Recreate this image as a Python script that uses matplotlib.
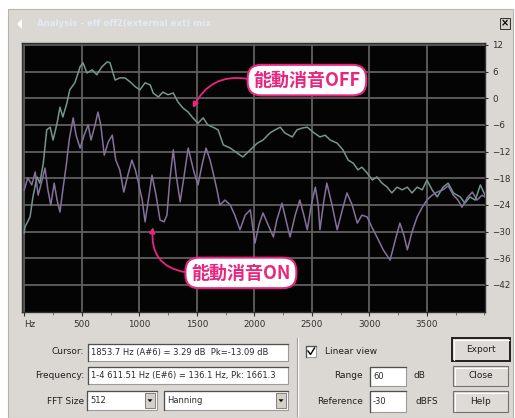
import numpy as np
import matplotlib.pyplot as plt
from matplotlib.patches import Rectangle, Polygon
from matplotlib.colors import LinearSegmentedColormap

# Spectrum traces (Hz, dB) -- noise cancelling off / on
off_hz = [0, 5, 50, 75, 110, 135, 165, 195, 225, 250, 285, 310, 335, 370, 395, 440,
          485, 510, 545, 590, 630, 675, 720, 745, 790, 830, 875, 920, 965, 1005, 1050,
          1095, 1120, 1165, 1205, 1250, 1295, 1335, 1380, 1425, 1465, 1510, 1555, 1595,
          1640, 1685, 1730, 1790, 1850, 1900, 1965, 2025, 2075, 2135, 2180, 2225, 2265,
          2330, 2370, 2415, 2460, 2510, 2570, 2615, 2660, 2720, 2770, 2815, 2860, 2900,
          2935, 2980, 3025, 3065, 3110, 3155, 3195, 3240, 3285, 3330, 3370, 3415, 3460,
          3500, 3545, 3590, 3640, 3685, 3730, 3790, 3830, 3875, 3920, 3965, 4005]
off_db = [-30.3, -29.0, -26.7, -22.2, -17.7, -19.1, -14.6, -7.1, -6.5, -9.4, -5.6, -2.0,
          -4.2, -1.1, 1.9, 3.5, 7.1, 8.0, 5.7, 6.4, 5.3, 7.1, 8.2, 8.0, 4.1, 4.6, 4.6, 3.7,
          2.6, 1.9, 3.5, 3.0, 1.2, 0.3, 1.4, 0.8, 1.2, -0.8, -2.2, -3.1, -4.4, -5.6, -4.4,
          -6.0, -6.5, -7.1, -10.5, -11.2, -12.3, -13.2, -11.6, -10.1, -9.4, -7.8, -7.1,
          -6.5, -7.8, -8.7, -7.1, -6.7, -6.5, -7.6, -8.7, -8.3, -9.4, -10.1, -11.6, -13.9,
          -14.6, -16.1, -15.5, -16.8, -18.4, -17.7, -19.1, -20.0, -21.3, -20.0, -20.6,
          -20.0, -21.3, -20.0, -20.6, -18.4, -20.6, -22.2, -20.0, -19.1, -21.3, -22.2,
          -23.6, -22.2, -22.9, -19.5, -21.8]

on_hz = [0, 30, 65, 95, 120, 155, 180, 205, 230, 260, 285, 310, 335, 365, 390, 425, 450,
         485, 520, 555, 580, 615, 640, 665, 695, 730, 765, 795, 830, 865, 900, 935, 965,
         990, 1025, 1050, 1085, 1110, 1145, 1180, 1215, 1240, 1265, 1295, 1320, 1355,
         1390, 1425, 1450, 1475, 1510, 1545, 1580, 1615, 1640, 1675, 1700, 1745, 1790,
         1830, 1875, 1920, 1965, 2005, 2040, 2075, 2120, 2165, 2195, 2240, 2275, 2310,
         2355, 2395, 2430, 2460, 2495, 2530, 2555, 2570, 2605, 2630, 2675, 2720, 2765,
         2805, 2850, 2895, 2935, 2980, 3025, 3065, 3120, 3180, 3225, 3265, 3300, 3330,
         3370, 3415, 3460, 3500, 3545, 3590, 3640, 3685, 3730, 3770, 3805, 3850, 3895,
         3935, 3980, 4015]
on_db = [-20.6, -17.9, -19.5, -16.6, -21.8, -18.4, -15.7, -20.6, -24.0, -19.1, -22.9,
         -25.6, -20.6, -15.0, -9.4, -4.4, -8.3, -11.2, -8.3, -6.0, -9.4, -6.0, -3.1, -6.0,
         -12.8, -9.8, -8.3, -13.9, -16.1, -21.1, -17.3, -13.9, -16.1, -18.8, -22.9, -27.8,
         -21.8, -17.3, -21.8, -27.4, -27.8, -26.3, -18.4, -11.6, -17.3, -23.3, -17.3,
         -11.2, -13.9, -16.6, -19.5, -15.0, -11.2, -13.9, -16.6, -20.6, -24.0, -22.9,
         -24.0, -26.3, -29.6, -26.3, -25.1, -32.6, -28.5, -25.8, -28.5, -31.2, -27.4,
         -23.6, -27.4, -31.2, -26.3, -22.9, -26.3, -29.6, -24.0, -20.0, -24.0, -29.6,
         -22.9, -19.1, -24.0, -29.6, -25.1, -21.3, -24.0, -28.1, -26.3, -26.7, -29.2,
         -31.2, -34.1, -36.4, -31.9, -28.1, -30.8, -34.1, -30.1, -26.7, -24.5, -22.9,
         -21.8, -21.1, -20.6, -19.7, -21.8, -22.9, -24.5, -22.4, -21.1, -22.9, -21.8,
         -22.4]

x_ticks = [0, 500, 1000, 1500, 2000, 2500, 3000, 3500]
x_labels = ['Hz', '500', '1000', '1500', '2000', '2500', '3000', '3500']
y_ticks = [12, 6, 0, -6, -12, -18, -24, -30, -36, -42]

PINK = '#e8267f'
CJK = ['Noto Sans CJK JP', 'DejaVu Sans']
WIN_BG = '#dbd8d3'

W, H = 515, 418
fig = plt.figure(figsize=(W / 100, H / 100), dpi=100)
fig.patch.set_facecolor('white')


def box(x0, y0, x1, y1):
    return [x0 / W, 1 - y1 / H, (x1 - x0) / W, (y1 - y0) / H]


# dialog chrome in pixel coordinates
bg = fig.add_axes([0, 0, 1, 1])
bg.axis('off')
bg.add_patch(Rectangle((8, 9), 505, 409, fc=WIN_BG, ec='#b8b5b0', lw=0.8))
title_cmap = LinearSegmentedColormap.from_list('title', ['#0c2a72', '#2d5ea6', '#a9cdf2'])
bg.imshow(np.linspace(0, 1, 256)[None, :], cmap=title_cmap, aspect='auto',
          extent=(11, 512, 35, 13))
bg.add_patch(Polygon([[17, 24], [22, 19], [22, 29]], closed=True, fc='white', ec='none'))
bg.text(37, 24, 'Analysis - eff off2(external ext) mix', color='#e4eaf5',
        fontsize=6.2, va='center', weight='bold')
bg.add_patch(Rectangle((500, 18), 10, 11, fc='#d4d0c8', ec='#303030', lw=0.7))
bg.text(505, 23.5, '×', fontsize=7, ha='center', va='center', weight='bold')


def field(x0, y0, x1, y1, text=''):
    bg.add_patch(Rectangle((x0, y0), x1 - x0, y1 - y0, fc='white', ec='#9a9a9a', lw=0.8))
    bg.plot([x0, x0, x1], [y1, y0, y0], color='#505050', lw=0.9)
    if text:
        bg.text(x0 + 3, (y0 + y1) / 2, text, fontsize=6, va='center', color='#2a2a2a')


def combo(x0, y0, x1, y1, text):
    field(x0, y0, x1, y1, text)
    bx = x1 - 12
    bg.add_patch(Rectangle((bx, y0 + 2), 10, y1 - y0 - 4, fc='#d4d0c8', ec='#707070', lw=0.6))
    cx, cy = bx + 5, (y0 + y1) / 2
    bg.add_patch(Polygon([[cx - 2.5, cy - 1.2], [cx + 2.5, cy - 1.2], [cx, cy + 1.6]],
                         closed=True, fc='black', ec='none'))


def button(x0, y0, x1, y1, text, default=False):
    bg.add_patch(Rectangle((x0, y0), x1 - x0, y1 - y0, fc='#dedbd6',
                           ec='#202020' if default else '#707070',
                           lw=1.4 if default else 0.8))
    bg.plot([x0 + 1.5, x0 + 1.5, x1 - 1.5], [y1 - 1.5, y0 + 1.5, y0 + 1.5],
            color='white', lw=0.8)
    bg.text((x0 + x1) / 2, (y0 + y1) / 2, text, fontsize=6.5, ha='center', va='center',
            color='#202020')


lab = dict(fontsize=6.5, va='center', color='#202020')
bg.text(84, 352, 'Cursor:', ha='right', **lab)
field(88, 344, 288, 361, '1853.7 Hz (A#6) = 3.29 dB  Pk=-13.09 dB')
bg.text(84, 376, 'Frequency:', ha='right', **lab)
field(88, 367, 288, 384, '1-4 611.51 Hz (E#6) = 136.1 Hz, Pk: 1661.3')
bg.text(84, 401, 'FFT Size', ha='right', **lab)
combo(87, 391, 157, 410, '512')
combo(164, 391, 288, 410, 'Hanning')

bg.plot([297, 297], [338, 416], color='#9a9a9a', lw=0.8)
bg.plot([298, 298], [338, 416], color='white', lw=0.8)

field(306, 346, 316, 357)
bg.plot([308, 310.5, 314.5], [351, 354.5, 348], color='black', lw=1.0)
bg.text(325, 352, 'Linear view', ha='left', **lab)
bg.text(363, 376, 'Range', ha='right', **lab)
field(370, 367, 406, 386, '60')
bg.text(414, 376, 'dB', ha='left', **lab)
bg.text(363, 402, 'Reference', ha='right', **lab)
field(370, 391, 406, 412, '-30')
bg.text(416, 402, 'dBFS', ha='left', **lab)

button(452, 338, 510, 361, 'Export', default=True)
button(453, 366, 508, 386, 'Close')
button(453, 391, 508, 412, 'Help')

bg.set_xlim(0, W)
bg.set_ylim(H, 0)

# spectrum plot
ax = fig.add_axes(box(22, 43, 485, 312))
ax.set_facecolor('#040404')
ax.plot(off_hz, off_db, color='#76958c', lw=1.1, zorder=3)
ax.plot(on_hz, on_db, color='#85719a', lw=1.1, zorder=3)

ax.set_xlim(-20, 4005)
ax.set_ylim(-48.1, 12.45)
ax.set_xticks(x_ticks)
ax.set_xticklabels(x_labels)
ax.get_xticklabels()[0].set_horizontalalignment('left')
ax.set_xticks(np.arange(0, 4001, 250), minor=True)
ax.set_yticks(y_ticks)
ax.yaxis.tick_right()
ax.grid(True, which='major', color='#5f5f5f', lw=1.3, zorder=1)
ax.tick_params(axis='x', which='major', length=3, pad=3, labelsize=6.3,
               colors='#303030')
ax.tick_params(axis='x', which='minor', length=2, color='#606060')
ax.tick_params(axis='y', length=2, pad=3, labelsize=6.3, colors='#303030')
for s in ax.spines.values():
    s.set_color('#303030')
    s.set_linewidth(1.0)

ax.annotate('能動消音OFF', xy=(1465, -2.2), xytext=(2457, 4.1),
            ha='center', va='center', fontsize=13, color=PINK, weight='bold',
            family=CJK, annotation_clip=False, zorder=5,
            bbox=dict(boxstyle='round,pad=0.32,rounding_size=0.75', fc='white',
                      ec=PINK, lw=1.5),
            arrowprops=dict(arrowstyle='-|>', color=PINK, lw=1.3,
                            connectionstyle='arc3,rad=0.4', relpos=(0, 0.5),
                            shrinkA=0, shrinkB=0, mutation_scale=8))
ax.annotate('能動消音ON', xy=(1117, -29.0), xytext=(1883, -39.3),
            ha='center', va='center', fontsize=13, color=PINK, weight='bold',
            family=CJK, annotation_clip=False, zorder=5,
            bbox=dict(boxstyle='round,pad=0.32,rounding_size=0.75', fc='white',
                      ec=PINK, lw=1.5),
            arrowprops=dict(arrowstyle='-|>', color=PINK, lw=1.3,
                            connectionstyle='arc3,rad=-0.5', relpos=(0, 0.5),
                            shrinkA=0, shrinkB=0, mutation_scale=8))

fig.savefig('out.png', dpi=100, facecolor=fig.get_facecolor())
